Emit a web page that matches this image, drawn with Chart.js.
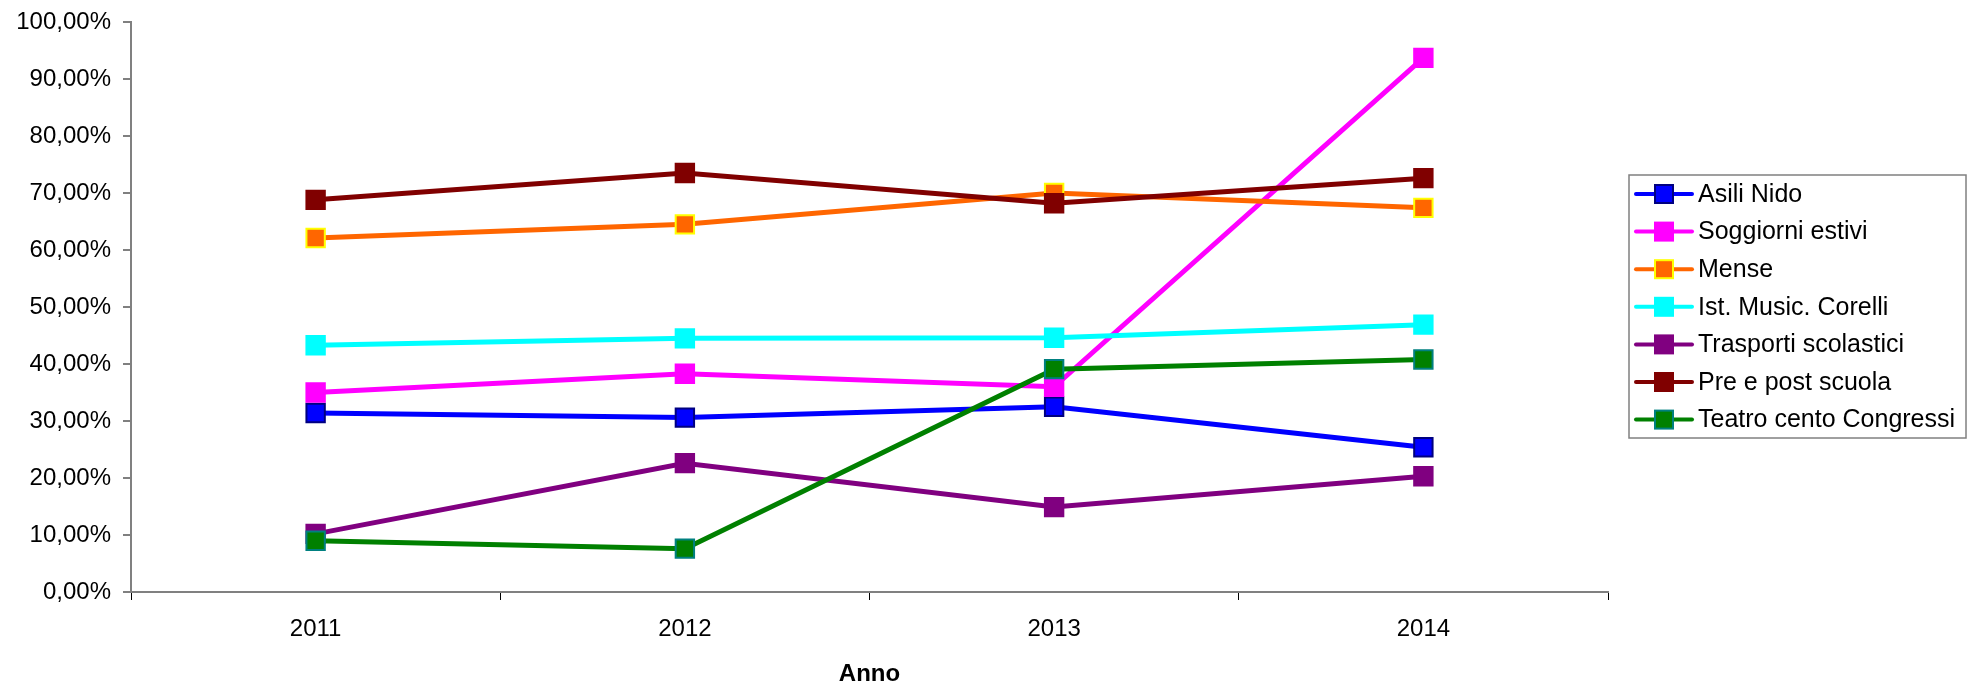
<!DOCTYPE html>
<html>
<head>
<meta charset="utf-8">
<script src="https://cdn.jsdelivr.net/npm/chart.js@4.4.0/dist/chart.umd.min.js"></script>
<style>
  body { margin: 0; background: #fff; }
  #wrap { width: 1968px; height: 686px; }
</style>
</head>
<body>
<div id="wrap"><canvas id="lineChart"></canvas></div>
<script>
  // values, in percent
  const years = ["2011", "2012", "2013", "2014"];
  const seriesNames = ["Asili Nido", "Soggiorni estivi", "Mense", "Ist. Music. Corelli",
                       "Trasporti scolastici", "Pre e post scuola", "Teatro cento Congressi"];
  const asiliNido = [31.4, 30.6, 32.5, 25.4];
  const soggiorni = [35.0, 38.3, 36.0, 93.7];
  const mense = [62.1, 64.5, 70.0, 67.4];
  const corelli = [43.3, 44.5, 44.6, 46.9];
  const trasporti = [10.2, 22.6, 14.9, 20.3];
  const prePost = [68.8, 73.5, 68.2, 72.6];
  const teatro = [9.0, 7.6, 39.1, 40.8];
  const yTicks = [0, 10, 20, 30, 40, 50, 60, 70, 80, 90, 100];

  const lineColors = ["#0000FF", "#FF00FF", "#FF6600", "#00FFFF", "#800080", "#800000", "#008000"];
  const markFill   = ["#0000FF", "#FF00FF", "#FF6600", "#00FFFF", "#800080", "#800000", "#008000"];
  const markEdge   = ["#000080", "#FF00FF", "#FFFF00", "#00FFFF", "#800080", "#800000", "#008080"];

  const allValues = [asiliNido, soggiorni, mense, corelli, trasporti, prePost, teatro];

  Chart.defaults.font.family = "'Liberation Sans', Arial, sans-serif";
  Chart.defaults.color = "#000";

  var datasets = seriesNames.map((name, i) => ({
    label: name,
    data: allValues[i],
    borderColor: lineColors[i],
    borderWidth: 5,
    tension: 0,
    pointStyle: "rect",
    pointRadius: 13,
    pointBackgroundColor: markFill[i],
    pointBorderColor: markEdge[i],
    pointBorderWidth: 2,
    clip: false,
    order: seriesNames.length - i   // later series on top, like the original
  }));

  // legend drawn as a framed box on the right
  const boxLegend = {
    id: "boxLegend",
    afterDraw(chart) {
      const ctx = chart.ctx;
      ctx.save();
      ctx.strokeStyle = "#808080";
      ctx.lineWidth = 1.5;
      ctx.strokeRect(1629, 175, 337, 263);
      chart.data.datasets.forEach((ds, i) => {
        var y = 194 + i * 37.6;
        ctx.strokeStyle = ds.borderColor;
        ctx.lineWidth = 4;
        ctx.lineCap = "round";
        ctx.beginPath();
        ctx.moveTo(1636, y);
        ctx.lineTo(1692, y);
        ctx.stroke();
        ctx.fillStyle = ds.pointBackgroundColor;
        ctx.fillRect(1655, y - 9, 18, 18);
        ctx.strokeStyle = ds.pointBorderColor;
        ctx.lineWidth = 2;
        ctx.strokeRect(1655, y - 9, 18, 18);
        ctx.fillStyle = "#000";
        ctx.font = "25px 'Liberation Sans', Arial, sans-serif";
        ctx.textBaseline = "middle";
        ctx.textAlign = "left";
        ctx.fillText(ds.label, 1698, y + 1);
      });
      ctx.restore();
    }
  };

  var ctxLine = document.getElementById("lineChart").getContext("2d");
  var myChart = new Chart(ctxLine, {
    type: "line",
    data: { labels: years, datasets: datasets },
    plugins: [boxLegend],
    options: {
      responsive: true,
      maintainAspectRatio: false,
      animation: false,
      events: [],
      devicePixelRatio: 1,
      layout: { autoPadding: false, padding: { top: 22, right: 360, bottom: 0, left: 0 } },
      plugins: {
        legend: { display: false },
        tooltip: { enabled: false }
      },
      scales: {
        x: {
          offset: true,
          grid: {
            offset: true,
            drawOnChartArea: false,
            drawTicks: true,
            tickLength: 8,
            color: "#000",
            lineWidth: 1
          },
          border: { display: true, color: "#808080", width: 2 },
          ticks: { font: { size: 24 }, padding: 15, maxRotation: 0 },
          title: {
            display: true,
            text: "Anno",
            font: { size: 24, weight: "bold", lineHeight: 1 },
            padding: { top: 0, bottom: 0 }
          },
          afterFit(scale) { scale.height = 94; }
        },
        y: {
          min: 0,
          max: 100,
          afterBuildTicks(scale) { scale.ticks = yTicks.map((v) => ({ value: v })); },
          grid: {
            drawOnChartArea: false,
            drawTicks: true,
            tickLength: 8,
            color: "#808080",
            lineWidth: 2
          },
          border: { display: true, color: "#808080", width: 2 },
          ticks: {
            font: { size: 24 },
            padding: 12,
            callback: (v) => v.toFixed(2).replace(".", ",") + "%"
          },
          afterFit(scale) {
            scale.width = 131;
            scale.paddingTop = 0;
            scale.paddingBottom = 0;
          }
        }
      }
    }
  });
</script>
</body>
</html>
